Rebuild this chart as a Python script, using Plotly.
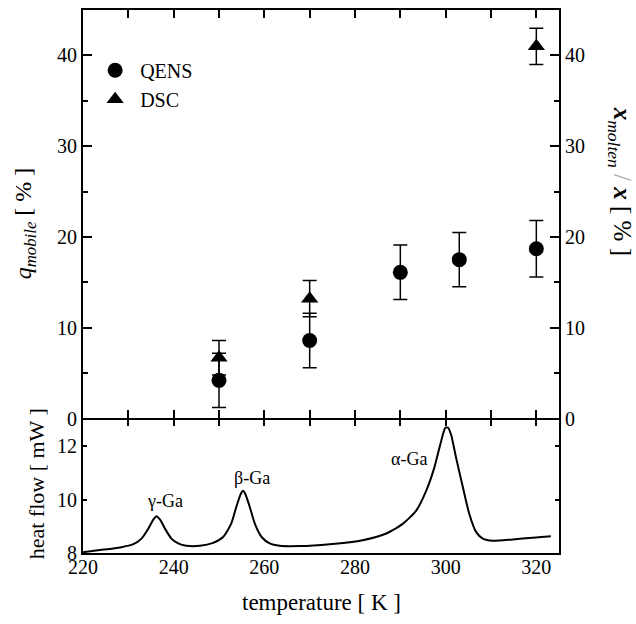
import plotly.graph_objects as go

# ---------------- data ----------------
qens_T = [250, 270, 290, 303, 320]
qens_q = [4.2, 8.6, 16.1, 17.5, 18.7]
qens_err = [3.0, 3.0, 3.0, 3.0, 3.1]

dsc_T = [250, 270, 320]
dsc_x = [6.7, 13.2, 41.0]
dsc_err = [1.9, 2.0, 2.0]

hf_T = [220.0, 223.7, 228.2, 231.1, 232.9, 234.4, 235.5, 236.2, 237.0, 238.1,
        239.5, 241.0, 242.8, 245.8, 248.7, 250.9, 252.7, 253.8, 254.8, 255.3,
        255.8, 256.8, 257.9, 259.4, 261.2, 263.4, 267.8, 274.4, 281.7, 286.9,
        290.6, 293.5, 295.7, 297.5, 299.0, 299.9, 300.5, 301.2, 302.3, 303.8,
        305.2, 306.7, 308.2, 310.4, 314.8, 319.2, 323.2]
hf_mW = [8.03, 8.11, 8.21, 8.33, 8.54, 8.91, 9.25, 9.38, 9.25, 8.91,
         8.54, 8.36, 8.27, 8.27, 8.38, 8.60, 9.10, 9.72, 10.21, 10.33,
         10.21, 9.72, 9.10, 8.60, 8.36, 8.27, 8.26, 8.33, 8.48, 8.73,
         9.10, 9.59, 10.33, 11.20, 12.19, 12.68, 12.70, 12.43, 11.57, 10.46,
         9.47, 8.79, 8.54, 8.46, 8.51, 8.57, 8.63]

peak_labels = ["γ-Ga", "β-Ga", "α-Ga"]
peak_T = [238.1, 257.2, 292.0]
peak_y = [9.96, 10.81, 11.52]

top_ticks = [0, 10, 20, 30, 40]
hf_ticks = [8, 10, 12]
temp_ticks = [220, 240, 260, 280, 300, 320]

FONT = "Liberation Serif"
XR = [220, 325]
SPLIT = 0.2477

fig = go.Figure()

fig.add_trace(go.Scatter(
    x=qens_T, y=qens_q, xaxis="x2", yaxis="y", mode="markers", name="QENS",
    marker=dict(symbol="circle", size=15, color="black"),
    error_y=dict(type="data", array=qens_err, color="black", thickness=1.5, width=7),
))
fig.add_trace(go.Scatter(
    x=dsc_T, y=dsc_x, xaxis="x2", yaxis="y3", mode="markers", name="DSC",
    marker=dict(symbol="triangle-up", size=15, color="black"),
    error_y=dict(type="data", array=dsc_err, color="black", thickness=1.5, width=7),
))
fig.add_trace(go.Scatter(
    x=hf_T, y=hf_mW, xaxis="x", yaxis="y2", mode="lines", showlegend=False,
    line=dict(color="black", width=2, shape="spline", smoothing=0.6),
))
fig.add_trace(go.Scatter(
    x=[], y=[], xaxis="x3", yaxis="y2", mode="markers", showlegend=False,
))

axis_common = dict(showgrid=False, zeroline=False, linecolor="black", linewidth=2,
                   tickcolor="black", tickwidth=2,
                   tickfont=dict(family=FONT, size=20, color="black"))

fig.update_layout(
    width=636, height=624,
    margin=dict(l=83, r=77, t=8, b=71),
    paper_bgcolor="white", plot_bgcolor="white",
    font=dict(family=FONT, color="black"),
    showlegend=True,
    legend=dict(x=0.015, y=0.925, xanchor="left", yanchor="top",
                bgcolor="rgba(0,0,0,0)", font=dict(family=FONT, size=20),
                itemwidth=40),
    xaxis=dict(**axis_common, domain=[0, 1], anchor="y2", range=XR,
               tickvals=temp_ticks, ticks="", showline=True, mirror=False,
               ticklabelstandoff=-5),
    xaxis2=dict(**axis_common, domain=[0, 1], anchor="y", range=XR,
                dtick=10, tick0=220, ticks="inside", ticklen=8, showticklabels=False,
                showline=True, mirror="ticks"),
    xaxis3=dict(**axis_common, domain=[0, 1], anchor="y2", side="top", overlaying="x",
                range=XR, dtick=10, tick0=220, ticks="inside", ticklen=8,
                showticklabels=False, showline=False),
    yaxis=dict(**axis_common, domain=[SPLIT, 1], anchor="x2", range=[0, 45],
               tickvals=top_ticks, ticks="inside", ticklen=9, showline=True,
               minor=dict(dtick=5, tick0=0, ticks="inside", ticklen=5,
                          tickcolor="black", tickwidth=2)),
    yaxis3=dict(**axis_common, anchor="x2", overlaying="y", side="right", range=[0, 45],
                tickvals=top_ticks, ticks="inside", ticklen=9, showline=True,
                minor=dict(dtick=5, tick0=0, ticks="inside", ticklen=5,
                           tickcolor="black", tickwidth=2)),
    yaxis2=dict(**axis_common, domain=[0, SPLIT], anchor="x", range=[8, 13.04],
                tickvals=hf_ticks, ticks="inside", ticklen=4, showline=True,
                mirror="ticks"),
)

for lab, tx, ty in zip(peak_labels, peak_T, peak_y):
    fig.add_annotation(x=tx, y=ty, xref="x", yref="y2", text=lab, showarrow=False,
                       font=dict(family=FONT, size=18, color="black"))

fig.add_annotation(xref="paper", yref="paper", x=-0.122, y=0.607, textangle=-90,
                   xanchor="center", yanchor="middle", showarrow=False,
                   text="<i>q</i><sub><i>mobile</i></sub> [ % ]",
                   font=dict(family=FONT, size=24, color="black"))
fig.add_annotation(xref="paper", yref="paper", x=1.128, y=0.684, textangle=90,
                   xanchor="center", yanchor="middle", showarrow=False,
                   text="<b><i>x</i></b><sub><i>molten</i></sub> <span style='color:#aaaaaa'>/</span> <b><i>x</i></b> [ % ]",
                   font=dict(family=FONT, size=25, color="black"))
fig.add_annotation(xref="paper", yref="paper", x=-0.097, y=0.128, textangle=-90,
                   xanchor="center", yanchor="middle", showarrow=False,
                   text="heat flow [ mW ]",
                   font=dict(family=FONT, size=22, color="black"))
fig.add_annotation(xref="paper", yref="paper", x=0.5, y=-0.0917,
                   xanchor="center", yanchor="middle", showarrow=False,
                   text="temperature [ K ]",
                   font=dict(family=FONT, size=23, color="black"))

fig.write_html("out.html", config={"displayModeBar": False},
               post_script="document.body.style.margin='0px';")
